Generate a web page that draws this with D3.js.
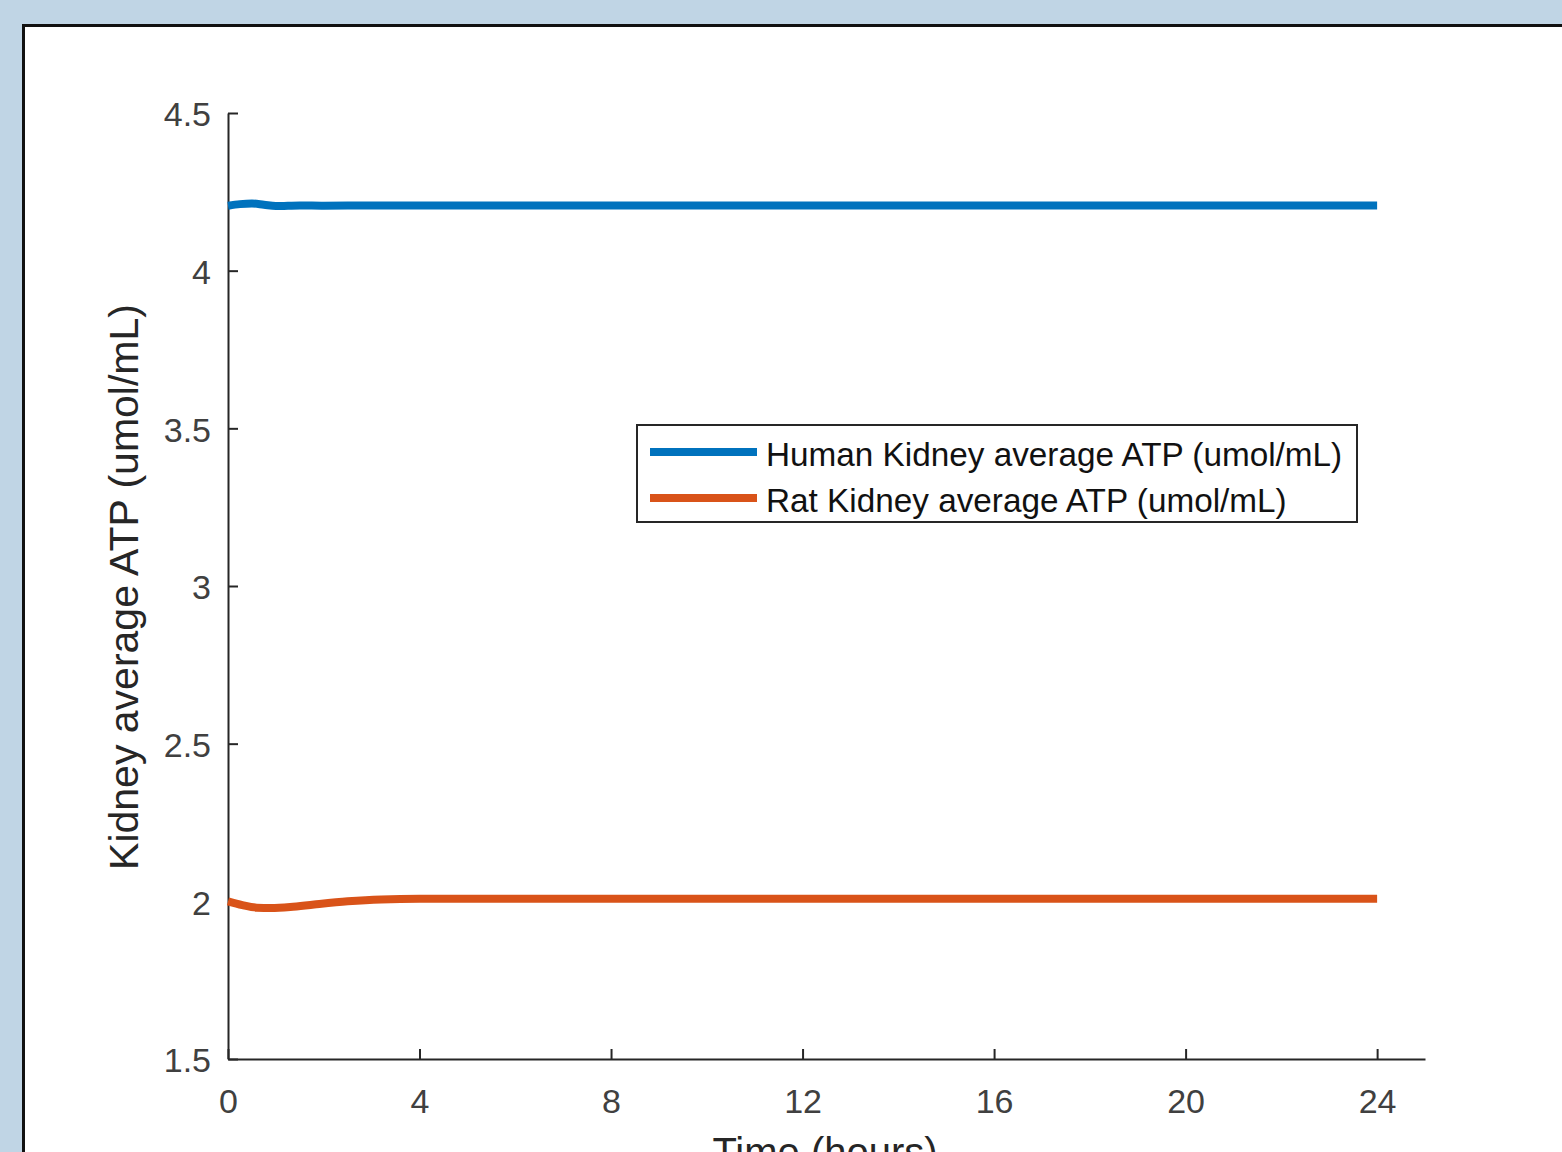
<!DOCTYPE html>
<html>
<head>
<meta charset="utf-8">
<script src="https://cdn.jsdelivr.net/npm/d3@7"></script>
<style>
	body { margin: 0; background: #c0d5e5; overflow: hidden; }
	text { font-family: "Liberation Sans", Arial, sans-serif; }
</style>
</head>
<body>
<div class="chart"></div>
<script>
// hours
var humanTime = [0, 0.25, 0.5, 0.75, 1, 1.5, 2, 3, 4, 24];
var humanATP = [4.206, 4.211, 4.213, 4.209, 4.205, 4.207, 4.206, 4.207, 4.207, 4.207];
var ratTime = [0, 0.3, 0.6, 0.9, 1.3, 1.8, 2.5, 3.2, 4, 6, 24];
var ratATP = [2.0, 1.988, 1.98, 1.979, 1.982, 1.99, 2.0, 2.006, 2.008, 2.008, 2.008];
var xTicks = [0, 4, 8, 12, 16, 20, 24];
var yTicks = [1.5, 2, 2.5, 3, 3.5, 4, 4.5];
var legendNames = ["Human Kidney average ATP (umol/mL)", "Rat Kidney average ATP (umol/mL)"];

var w = 1562,
	h = 1152,
	colors = ["#0072bd", "#d95319"],
	ink = "#262626",
	svg;

svg = d3.select(".chart").append("svg").attr("width", w).attr("height", h);

// white figure panel
svg
	.append("rect")
	.attr("x", 23.5)
	.attr("y", 25.5)
	.attr("width", w)
	.attr("height", h)
	.attr("fill", "#fff")
	.attr("stroke", "#111")
	.attr("stroke-width", 3);

const xScale = d3.scaleLinear().domain([0, 25]).range([228, 1425]);
const yScale = d3.scaleLinear().domain([1.5, 4.5]).range([1059, 113]);

const xAxis = d3.axisTop(xScale).tickValues(xTicks).tickSize(10).tickSizeOuter(0).tickFormat(d3.format("d"));
const yAxis = d3.axisRight(yScale).tickValues(yTicks).tickSize(10).tickSizeOuter(0).tickFormat((d) => d);

const gx = svg.append("g").attr("transform", "translate(0,1059)").call(xAxis);
const gy = svg.append("g").attr("transform", "translate(228,0)").call(yAxis);

[gx, gy].forEach((g) => {
	g.select(".domain").attr("stroke", ink).attr("stroke-width", 2);
	g.selectAll(".tick line").attr("stroke", ink).attr("stroke-width", 2);
	g.selectAll(".tick text").attr("fill", "#404040").attr("font-size", 34);
});
gx.selectAll(".tick text").attr("y", 42).attr("dy", "0.35em").attr("text-anchor", "middle");
gy.selectAll(".tick text").attr("x", -17).attr("dy", "0.38em").attr("text-anchor", "end");

const line = d3
	.line()
	.x((d) => xScale(d[0]))
	.y((d) => yScale(d[1]))
	.curve(d3.curveMonotoneX);

const series = [
	d3.zip(humanTime, humanATP),
	d3.zip(ratTime, ratATP)
];

svg
	.selectAll("path.series")
	.data(series)
	.enter()
	.append("path")
	.attr("class", "series")
	.attr("d", line)
	.attr("fill", "none")
	.attr("stroke", (d, i) => colors[i])
	.attr("stroke-width", 8);

// axis labels
svg
	.append("text")
	.attr("transform", "translate(138,587) rotate(-90)")
	.attr("text-anchor", "middle")
	.attr("fill", ink)
	.attr("font-size", 41)
	.text("Kidney average ATP (umol/mL)");

svg
	.append("text")
	.attr("x", 825)
	.attr("y", 1166)
	.attr("text-anchor", "middle")
	.attr("fill", ink)
	.attr("font-size", 40)
	.text("Time (hours)");

// legend
const legend = svg.append("g").attr("transform", "translate(637,425)");
legend
	.append("rect")
	.attr("width", 720)
	.attr("height", 97)
	.attr("fill", "#fff")
	.attr("stroke", ink)
	.attr("stroke-width", 2);

const items = legend
	.selectAll("g.item")
	.data(legendNames)
	.enter()
	.append("g")
	.attr("class", "item")
	.attr("transform", (d, i) => "translate(0," + (27 + i * 46) + ")");

items
	.append("line")
	.attr("x1", 13)
	.attr("x2", 120)
	.attr("stroke", (d, i) => colors[i])
	.attr("stroke-width", 8);

items
	.append("text")
	.attr("x", 129)
	.attr("y", 2)
	.attr("dy", "0.35em")
	.attr("fill", "#111")
	.attr("font-size", 33.3)
	.text((d) => d);
</script>
</body>
</html>
